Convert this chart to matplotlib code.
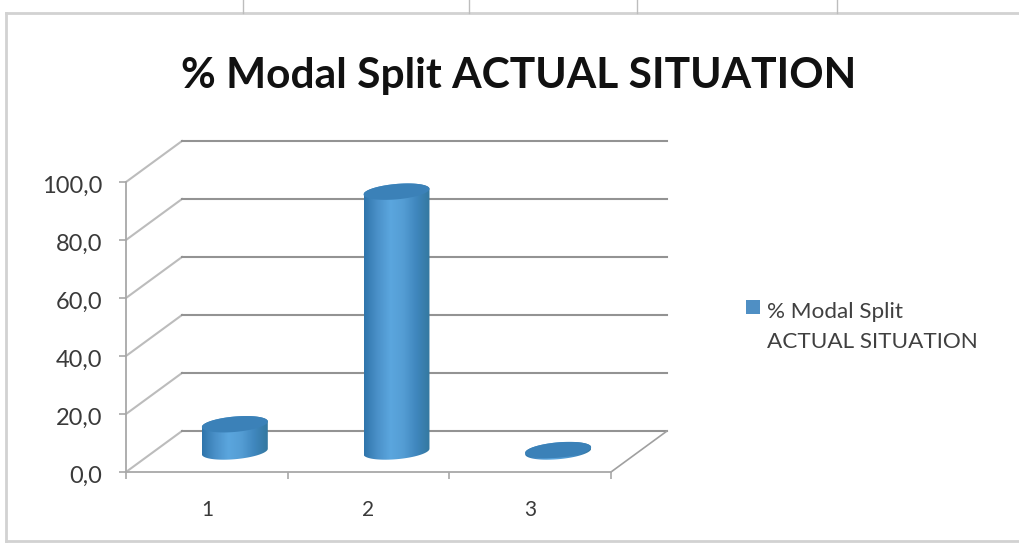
import numpy as np
import matplotlib
matplotlib.use('Agg')
import matplotlib.pyplot as plt
from matplotlib.colors import LinearSegmentedColormap
from matplotlib.lines import Line2D
from matplotlib.legend_handler import HandlerPatch
from matplotlib.patches import Polygon, Patch, Rectangle
from matplotlib.transforms import ScaledTranslation

categories = ['1', '2', '3']
values = [9.4, 89.6, 0.5]
yticks = [0, 20, 40, 60, 80, 100]
ytick_labels = ['0,0', '20,0', '40,0', '60,0', '80,0', '100,0']
title = '% Modal Split ACTUAL SITUATION'
legend_label = '% Modal Split\nACTUAL SITUATION'

W, H = 1019, 544
plt.rcParams['font.family'] = ['Lato', 'DejaVu Sans']

fig = plt.figure(figsize=(W/100, H/100), dpi=100)
# front plane of the fake 3d box, in pixels
left, right, top, bottom = 126, 611, 182, 472
ax = fig.add_axes([left/W, 1 - bottom/H, (right-left)/W, (bottom-top)/H])
ax.patch.set_alpha(0)

# depth offset of the back wall, in data units
px_x = (right-left)/3.0
px_y = (bottom-top)/100.0
dx = 56/px_x
dy = 41/px_y
grid = '#939393'

for v in yticks:
    ax.plot([0.5, 0.5+dx], [v, v+dy], color='#bcbcbc', lw=1.5, clip_on=False, zorder=1)
    ax.plot([0.5+dx, 3.5+dx], [v+dy, v+dy], color=grid, lw=1.5, clip_on=False, zorder=1)
ax.plot([3.5, 3.5+dx], [0, dy], color='#a0a0a0', lw=1.2, clip_on=False, zorder=1)

# cylinders
cmap = LinearSegmentedColormap.from_list('cyl', ['#2f75ab', '#4a90c8', '#5ba6de', '#549dd4', '#3f86bd', '#34789f'])
grad = np.linspace(0, 1, 256).reshape(1, -1)
t = np.linspace(0, 2*np.pi, 361)[:-1]
R = 31/px_x
k = 0.2
ex = R*np.cos(t) + k*dx*np.sin(t)
ey = k*dy*np.sin(t)
il, ir = np.argmin(ex), np.argmax(ex)
# going up in t from the right-most point passes the back of the ellipse
back = [(ir + j) % 360 for j in range(((il-ir) % 360)+1)]
front = [(il + j) % 360 for j in range(((ir-il) % 360)+1)]

for i, val in enumerate(values):
    cx = i + 1 + dx/2
    cy = dy/2
    low = np.column_stack([cx+ex[front], cy+ey[front]])
    up = np.column_stack([cx+ex[back], cy+val+ey[back]])
    body = np.vstack([low, up])
    im = ax.imshow(grad, cmap=cmap, aspect='auto', zorder=3,
                   extent=[cx+ex.min(), cx+ex.max(), cy-abs(ey).max(), cy+val+abs(ey).max()])
    im.set_clip_path(Polygon(body, transform=ax.transData))
    ax.fill(cx+ex, cy+val+ey, color='#3b81b8', lw=0, zorder=4, clip_on=False)

ax.set_xlim(0.5, 3.5)
ax.set_ylim(0, 100)
ax.set_xticks([0.5, 1.5, 2.5, 3.5])
ax.set_xticklabels([])
ax.set_xticks([1, 2, 3], minor=True)
ax.set_xticklabels(categories, minor=True, fontsize=15, color='#3a3a3a')
ax.tick_params(axis='x', which='minor', length=0, pad=20)
ax.tick_params(axis='x', which='major', length=5, color='#a8a8a8', width=1.2)
ax.set_yticks(yticks)
ax.set_yticklabels(ytick_labels, fontsize=17, color='#3a3a3a', va='center')
ax.tick_params(axis='y', length=5, color='#a8a8a8', width=1.2, pad=12)
# labels sit a little under their ticks
shift = ScaledTranslation(0, -3/72, fig.dpi_scale_trans)
for lab in ax.get_yticklabels():
    lab.set_transform(lab.get_transform() + shift)
for s in ['top', 'right']:
    ax.spines[s].set_visible(False)
for s in ['left', 'bottom']:
    ax.spines[s].set_color('#a8a8a8')
    ax.spines[s].set_linewidth(1.3)

fig.text(519/W, 1-76/H, title, fontsize=30.6, fontweight='bold', color='#111111',
         ha='center', va='center')


def top_swatch(legend, orig_handle, xdescent, ydescent, width, height, fontsize):
    # swatch level with the first of the two text lines
    return Rectangle((-xdescent, -ydescent + 0.92*fontsize), width, width)


leg = fig.legend(handles=[Patch(facecolor='#4f8fc4', edgecolor='none', label=legend_label)],
                 loc='upper left', bbox_to_anchor=(735/W, 1-290.5/H), frameon=False,
                 fontsize=16.2, labelcolor='#404040', handlelength=0.62, handleheight=0.62,
                 handletextpad=0.32, borderpad=0, labelspacing=0,
                 handler_map={Patch: HandlerPatch(patch_func=top_swatch)})
for txt in leg.get_texts():
    txt.set_linespacing(1.65)

# worksheet frame around the chart
frame = '#d2d2d2'
segs = [([6, W], [13, 13]), ([6, 6], [13, 541]), ([6, W], [541, 541])]
for sx, sy in segs:
    fig.add_artist(Line2D([a/W for a in sx], [1-b/H for b in sy], color=frame, lw=2))
for x0 in [243, 469, 637, 837]:
    fig.add_artist(Line2D([x0/W, x0/W], [1, 1-13/H], color='#bdbdbd', lw=1))

fig.savefig('out.png', dpi=100)
